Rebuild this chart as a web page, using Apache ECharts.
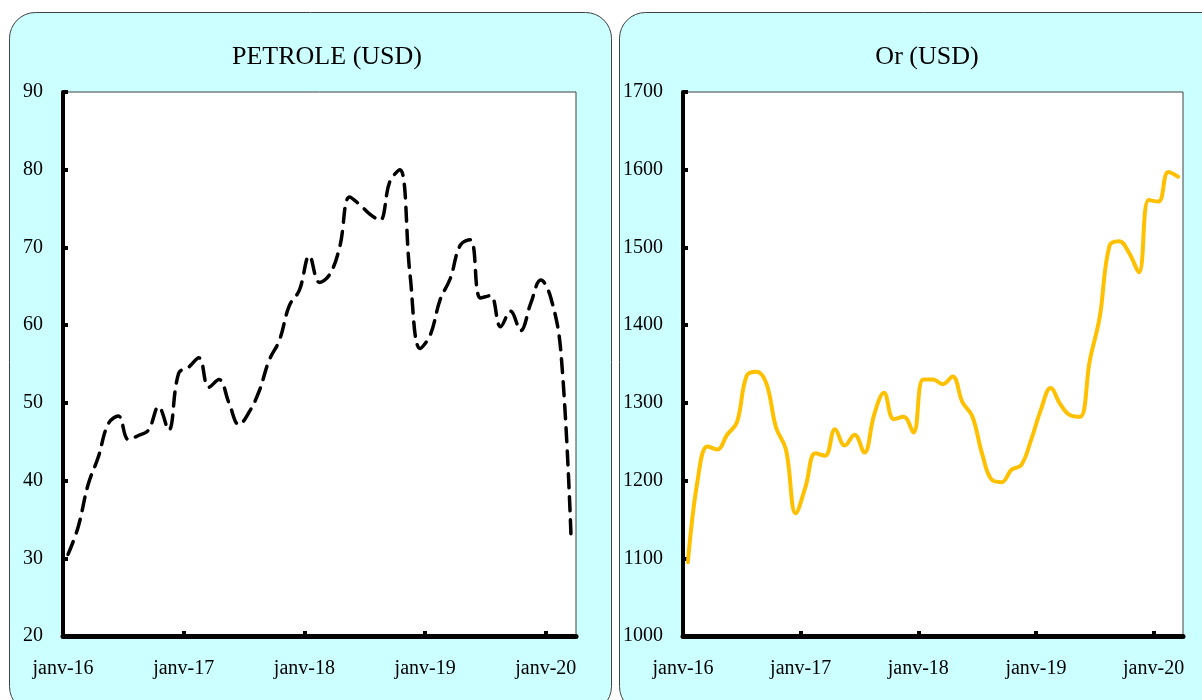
<!DOCTYPE html>
<html>
<head>
<meta charset="utf-8">
<script src="https://cdn.jsdelivr.net/npm/echarts@6/dist/echarts.min.js"></script>
<style>
  html, body { margin: 0; padding: 0; background: #ffffff; }
  #chart { width: 1202px; height: 700px; }
</style>
</head>
<body>
<div id="chart"></div>
<script>
// Months of the series (one point per month, placed mid-month)
const months = [
  '2016-01','2016-02','2016-03','2016-04','2016-05','2016-06','2016-07','2016-08','2016-09','2016-10','2016-11','2016-12',
  '2017-01','2017-02','2017-03','2017-04','2017-05','2017-06','2017-07','2017-08','2017-09','2017-10','2017-11','2017-12',
  '2018-01','2018-02','2018-03','2018-04','2018-05','2018-06','2018-07','2018-08','2018-09','2018-10','2018-11','2018-12',
  '2019-01','2019-02','2019-03','2019-04','2019-05','2019-06','2019-07','2019-08','2019-09','2019-10','2019-11','2019-12',
  '2020-01','2020-02','2020-03'
];

// PETROLE (USD)
const oilValues = [
  30.5, 34, 39.5, 43, 47.3, 48.3, 45.3, 45.8, 46.5, 49.5, 46.5, 53.8,
  54.6, 55.8, 52, 53, 50, 47.2, 48.8, 51.5, 55.5, 58, 62.5, 64.5,
  68.9, 65.5, 66.5, 70, 76.5, 75.5, 74.3, 73.5, 78.5, 80, 66.5, 57,
  58.7, 63.3, 66, 70.3, 71, 63.5, 63.8, 59.8, 61.8, 59.3, 62.8, 65.8,
  63.5, 56.5, 33
];

// Or (USD)
const goldValues = [
  1095, 1201, 1244, 1240, 1259, 1275, 1335, 1340, 1325, 1268, 1240, 1158,
  1192, 1235, 1232, 1266, 1245, 1259, 1236, 1285, 1313, 1279, 1282, 1262,
  1330, 1330, 1324, 1334, 1301, 1283, 1235, 1201, 1198, 1214, 1220, 1252,
  1291, 1319, 1298, 1284, 1282, 1355, 1410, 1502, 1508, 1493, 1468, 1561,
  1559, 1597, 1591
];

// x-axis tick labels (January of each year)
const tickLabels = ['janv-16', 'janv-17', 'janv-18', 'janv-19', 'janv-20'];
const tickMonths = [0, 12, 24, 36, 48];

const titles = ['PETROLE (USD)', 'Or (USD)'];

// month string -> month index from Jan 2016 (mid-month position)
function monthPos(m) {
  const [y, mo] = m.split('-').map(Number);
  return (y - 2016) * 12 + (mo - 1) + 0.5;
}
const oilData = months.map((m, i) => [monthPos(m), oilValues[i]]);
const goldData = months.map((m, i) => [monthPos(m), goldValues[i]]);

const FONT = '"Liberation Serif", "Times New Roman", serif';

function xAxisFor(gridIndex) {
  return {
    type: 'value',
    gridIndex: gridIndex,
    min: 0,
    max: 51,
    interval: 12,
    splitLine: { show: false },
    axisLine: { show: true, lineStyle: { color: '#000', width: 5 } },
    axisTick: { show: true, inside: true, length: 5, customValues: tickMonths, lineStyle: { color: '#000', width: 4 } },
    axisLabel: {
      customValues: tickMonths,
      formatter: function (v) { const k = tickMonths.indexOf(v); return k >= 0 ? tickLabels[k] : ''; },
      color: '#000', fontFamily: FONT, fontSize: 20, margin: 23
    }
  };
}
function yAxisFor(gridIndex, min, max, interval) {
  return {
    type: 'value',
    gridIndex: gridIndex,
    min: min, max: max, interval: interval,
    splitLine: { show: false },
    axisLine: { show: true, lineStyle: { color: '#000', width: 4 } },
    axisTick: { show: true, inside: true, length: 5, lineStyle: { color: '#000', width: 4 } },
    axisLabel: {
      formatter: function (v) { return String(v); },
      color: '#000', fontFamily: FONT, fontSize: 20, margin: 20
    }
  };
}

const chart = echarts.init(document.getElementById('chart'), null, { renderer: 'canvas' });
chart.setOption({
  backgroundColor: '#ffffff',
  animation: false,
  graphic: [
    { type: 'rect', z: -10, shape: { x: 9.5, y: 12.5, width: 602, height: 700, r: 26 },
      style: { fill: '#CCFFFF', stroke: '#404040', lineWidth: 1 } },
    { type: 'rect', z: -10, shape: { x: 619.5, y: 12.5, width: 610, height: 700, r: 26 },
      style: { fill: '#CCFFFF', stroke: '#404040', lineWidth: 1 } },
    { type: 'text', z: 10, x: 327, y: 57,
      style: { text: titles[0], font: '26px ' + FONT, fill: '#000', align: 'center', verticalAlign: 'middle' } },
    { type: 'text', z: 10, x: 927, y: 57,
      style: { text: titles[1], font: '26px ' + FONT, fill: '#000', align: 'center', verticalAlign: 'middle' } }
  ],
  grid: [
    { left: 63, top: 92, width: 513, height: 544, show: true, backgroundColor: '#ffffff', borderColor: '#404040', borderWidth: 1 },
    { left: 683, top: 92, width: 500, height: 544, show: true, backgroundColor: '#ffffff', borderColor: '#404040', borderWidth: 1 }
  ],
  xAxis: [xAxisFor(0), xAxisFor(1)],
  yAxis: [yAxisFor(0, 20, 90, 10), yAxisFor(1, 1000, 1700, 100)],
  series: [
    {
      name: titles[0], type: 'line', xAxisIndex: 0, yAxisIndex: 0,
      data: oilData, smooth: 0.4, showSymbol: false,
      lineStyle: { color: '#000', width: 3.5, type: [14, 9], cap: 'round' }
    },
    {
      name: titles[1], type: 'line', xAxisIndex: 1, yAxisIndex: 1,
      data: goldData, smooth: 0.4, showSymbol: false,
      lineStyle: { color: '#FFC000', width: 4, cap: 'round' }
    }
  ]
});
</script>
</body>
</html>
